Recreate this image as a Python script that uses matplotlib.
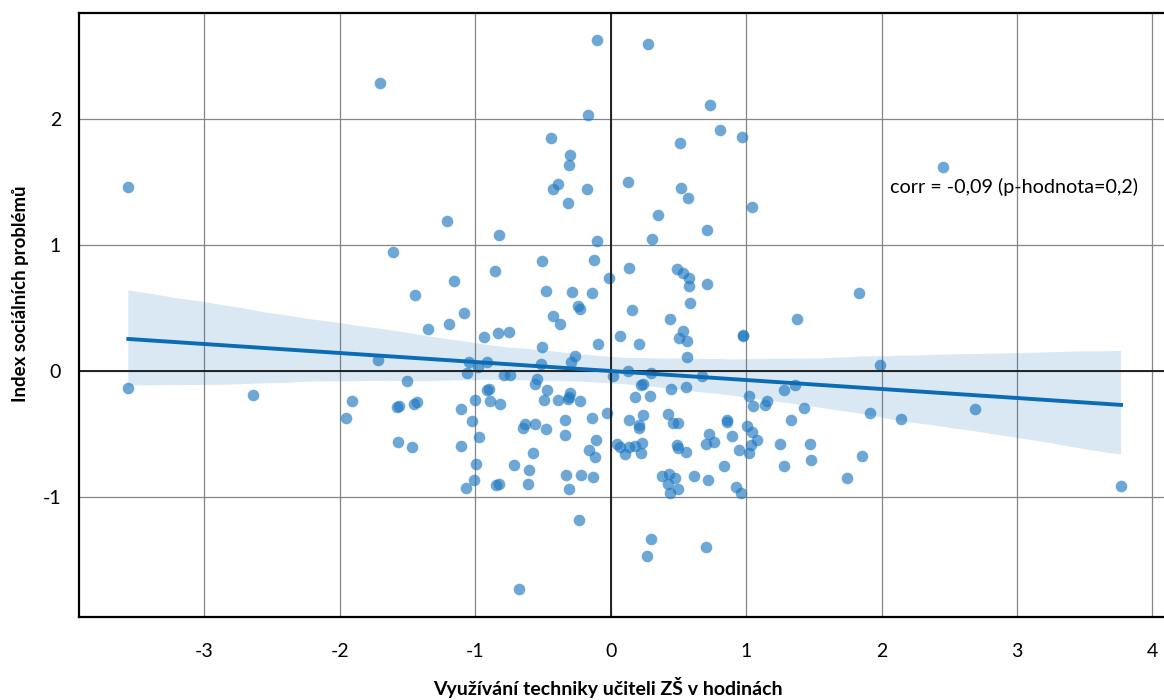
import numpy as np
import matplotlib
matplotlib.use("Agg")
import matplotlib.pyplot as plt
import seaborn as sns

# hodnoty
x_hours = [
    -3.56, -1.70, -1.605, -3.56, -2.64, -1.91, -1.95, -1.72, -1.58, -1.56, -1.57,
    -0.10, -0.166, -0.44, -0.30, -0.306, -0.385, -0.427, -0.171, 0.131, -0.314,
    -1.21, -0.823, -0.097, -0.506, -0.122, 0.139, -0.85, -1.157, -0.011, -1.445,
    -0.474, -0.284, -0.137, -0.242, -0.225, 0.156, -1.081, -0.424,
    -1.19, -1.349, -0.373, -0.936, -0.832, -0.749, 0.07, -0.092, -0.508, -0.262,
    -0.291, -0.513, -1.042, -0.976, -0.911, -1.059, -0.786, -0.742, 0.021, 0.127,
    -1.504, -0.56, -0.545, -0.914, -0.899, -0.471, -0.297, -1.45, -1.43, -1.0,
    -0.892, -0.813, -0.489, -0.385, -0.316, -0.309, -0.223, -1.108, -0.023, -1.02,
    -0.139, -0.336, -0.629, -0.648, -0.557, -0.474, -0.968, -0.336, -0.109, -0.159,
    -0.117, -1.467, -1.106, -0.57, -0.995, -0.714, -0.599, -0.331, -0.22, -0.127,
    -1.007, -1.071, -0.847, -0.823, -0.607, -0.309, -0.230, -0.678, 0.045, 0.07,
    0.279, 0.734, 0.806, 0.968, 0.511, 0.52, 0.570, 1.047, 0.348, 0.715, 0.309,
    0.491, 0.537, 0.582, 0.582, 0.715, 1.834, 2.456,
    0.584, 0.439, 0.210, 0.537, 0.503, 0.567, 0.562, 0.978, 0.978, 1.379, 0.299,
    0.673, 1.989, 0.223, 0.242, 0.181, 0.289, 0.449, 0.557, 1.024, 1.054, 1.14,
    1.157, 1.283, 1.362, 1.428, 1.915, 1.33, 0.137, 0.238, 0.213, 0.208, 0.422,
    0.459, 0.498, 0.857, 0.862, 1.007, 1.042, 1.081, 1.035, 1.02, 0.948, 0.894,
    0.729, 0.705, 0.766, 0.493, 0.498, 0.557, 0.139, 0.181, 0.235, 0.105, 0.225,
    0.383, 0.432, 0.476, 0.427, 0.5, 0.439, 0.616, 0.72, 0.84, 0.928, 0.963,
    1.251, 1.278, 1.472, 1.478, 1.856, 1.748, 0.301, 0.269, 0.702,
    2.144, 2.69, 3.768,
]
social_index = [
    1.46, 2.28, 0.945, -0.135, -0.19, -0.24, -0.37, 0.087, -0.285, -0.277, -0.56,
    2.62, 2.03, 1.845, 1.71, 1.63, 1.48, 1.446, 1.44, 1.50, 1.33,
    1.19, 1.08, 1.03, 0.873, 0.881, 0.821, 0.794, 0.713, 0.742, 0.607,
    0.633, 0.626, 0.618, 0.52, 0.496, 0.486, 0.457, 0.435,
    0.377, 0.338, 0.37, 0.267, 0.306, 0.311, 0.28, 0.216, 0.19, 0.119,
    0.071, 0.053, 0.069, 0.034, 0.074, -0.018, -0.034, -0.029, -0.040, 0.003,
    -0.077, -0.098, -0.063, -0.150, -0.145, -0.150, -0.169, -0.261, -0.248, -0.23,
    -0.235, -0.259, -0.227, -0.227, -0.222, -0.203, -0.24, -0.298, -0.335, -0.396,
    -0.372, -0.39, -0.417, -0.454, -0.422, -0.459, -0.52, -0.509, -0.549, -0.623,
    -0.676, -0.602, -0.594, -0.652, -0.736, -0.742, -0.781, -0.823, -0.823, -0.837,
    -0.866, -0.926, -0.90, -0.897, -0.897, -0.934, -1.177, -1.726, -0.573, -0.60,
    2.59, 2.11, 1.914, 1.853, 1.81, 1.449, 1.372, 1.30, 1.238, 1.119, 1.045,
    0.808, 0.778, 0.739, 0.673, 0.694, 0.623, 1.62,
    0.544, 0.412, 0.216, 0.319, 0.264, 0.238, 0.111, 0.29, 0.275, 0.414, -0.013,
    -0.040, 0.0475, -0.113, -0.103, -0.206, -0.195, -0.14, -0.124, -0.193, -0.275, -0.264,
    -0.235, -0.153, -0.111, -0.29, -0.33, -0.388, -0.388, -0.346, -0.428, -0.454, -0.338,
    -0.414, -0.414, -0.383, -0.401, -0.433, -0.48, -0.546, -0.581, -0.652, -0.623, -0.515,
    -0.499, -0.578, -0.56, -0.586, -0.612, -0.644, -0.604, -0.591, -0.572, -0.66, -0.649,
    -0.829, -0.813, -0.85, -0.892, -0.932, -0.968, -0.829, -0.866, -0.755, -0.916, -0.963,
    -0.573, -0.752, -0.576, -0.705, -0.673, -0.845, -1.33, -1.462, -1.396,
    -0.38, -0.303, -0.91,
]
x_ticks = [-3, -2, -1, 0, 1, 2, 3, 4]
y_ticks = [-1, 0, 1, 2]
corr_text = "corr = -0,09 (p-hodnota=0,2)"

plt.rcParams['font.family'] = ['Lato', 'DejaVu Sans']
plt.rcParams['axes.unicode_minus'] = False

fig = plt.figure(figsize=(11.64, 7.0), dpi=100)
ax = fig.add_axes([0.068, 0.119, 0.932, 0.862])

blue = '#0b6bb5'
sns.regplot(x=np.array(x_hours), y=np.array(social_index), ax=ax, ci=95, n_boot=1000, seed=3,
            truncate=True, color=blue,
            scatter_kws=dict(s=70, alpha=0.65, color='#1f78c1', linewidths=0),
            line_kws=dict(lw=2.8, color=blue))
for coll in ax.collections[1:]:
    coll.set_alpha(0.15)

ax.set_xlim(-3.923, 4.085)
ax.set_ylim(-1.945, 2.835)
ax.set_xticks(x_ticks)
ax.set_yticks(y_ticks)
ax.set_xticklabels([str(t) for t in x_ticks])
ax.set_yticklabels([str(t) for t in y_ticks])
ax.tick_params(length=0, labelsize=14)
ax.tick_params(axis='x', pad=19)
ax.tick_params(axis='y', pad=13)

ax.grid(True, color='#858585', lw=0.9)
ax.set_axisbelow(True)
ax.axhline(0, color='#222222', lw=1.4, zorder=1)
ax.axvline(0, color='#222222', lw=1.4, zorder=1)
for side in ['left', 'bottom', 'top']:
    ax.spines[side].set_linewidth(1.6)
    ax.spines[side].set_color('black')
ax.spines['right'].set_visible(False)

ax.text(2.063, 1.459, corr_text, ha='left', va='center', fontsize=14.2)

ax.set_xlabel("Využívání techniky učiteli ZŠ v hodinách", fontsize=14, fontweight='bold')
ax.set_ylabel("Index sociálních problémů", fontsize=13.4, fontweight='bold')
ax.xaxis.set_label_coords(0.4876, -0.118)
ax.xaxis.label.set_va('center')
ax.yaxis.set_label_coords(-0.0544, 0.5345)
ax.yaxis.label.set_va('center')

fig.savefig("out.png", dpi=100)
